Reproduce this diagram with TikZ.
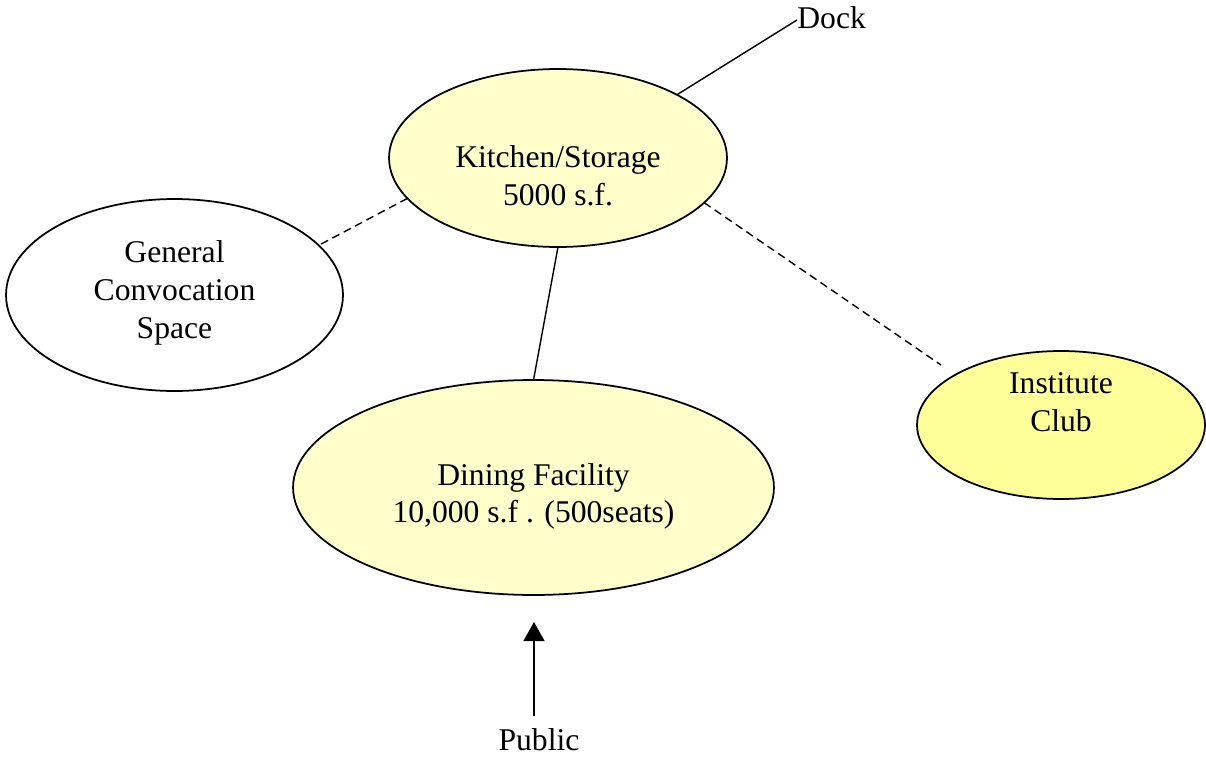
\documentclass[tikz,border=0pt]{standalone}
\usepackage{fontspec}
\setmainfont{Liberation Serif}
\usetikzlibrary{shapes.geometric,arrows.meta}
\definecolor{paleyellow}{HTML}{FFFFCC}
\definecolor{clubyellow}{HTML}{FFFF99}
\tikzset{
  room/.style={ellipse, draw=black, line width=1pt, outer sep=0pt, inner sep=0pt},
  lbl/.style={align=center, inner sep=0pt, font=\fontsize{18}{21.5}\selectfont},
  link/.style={line width=0.8pt},
  dlink/.style={line width=0.8pt, dash pattern=on 4.5pt off 2.8pt},
}
\begin{document}
\begin{tikzpicture}[x=0.02cm,y=-0.02cm]
\useasboundingbox (0,0) rectangle (1206,757);
% ellipses
\node[room, fill=paleyellow, minimum width=6.76cm, minimum height=3.56cm] (kitchen) at (558,158) {};
\node[room, fill=white, minimum width=6.74cm, minimum height=3.84cm] (conv) at (174.5,295) {};
\node[room, fill=paleyellow, minimum width=9.62cm, minimum height=4.3cm] (dining) at (533.5,487.5) {};
\node[room, fill=clubyellow, minimum width=5.76cm, minimum height=2.96cm] (club) at (1061,425) {};
% labels
\node[lbl] (kitchenT) at (558,176) {Kitchen/Storage\\5000 s.f.};
\node[lbl] (convT) at (174.5,293) {General\\Convocation\\Space};
\node[lbl] (diningT) at (533.5,496.5) {Dining Facility\\10,000 s.f . (500seats)};
\node[lbl] (clubT) at (1061,402.5) {Institute\\Club};
\node[lbl, anchor=west] (dock) at (797,18) {Dock};
\node[lbl] (public) at (539,740) {Public};
% connectors
\coordinate (dockend) at (797,20);
\coordinate (clubend) at (941,365);
\draw[link] (kitchen.28.8) -- (dockend);
\draw[dlink] (kitchen.195.9) -- (conv.19.2);
\draw[dlink] (kitchen.343.8) -- (clubend);
\draw[link] (kitchen.270) -- (dining.90);
\coordinate (arrtip) at (534,622);
\coordinate (arrbase) at (534,716);
\draw[link, -{Triangle[width=0.42cm,length=0.38cm]}] (arrbase) -- (arrtip);
\end{tikzpicture}
\end{document}
